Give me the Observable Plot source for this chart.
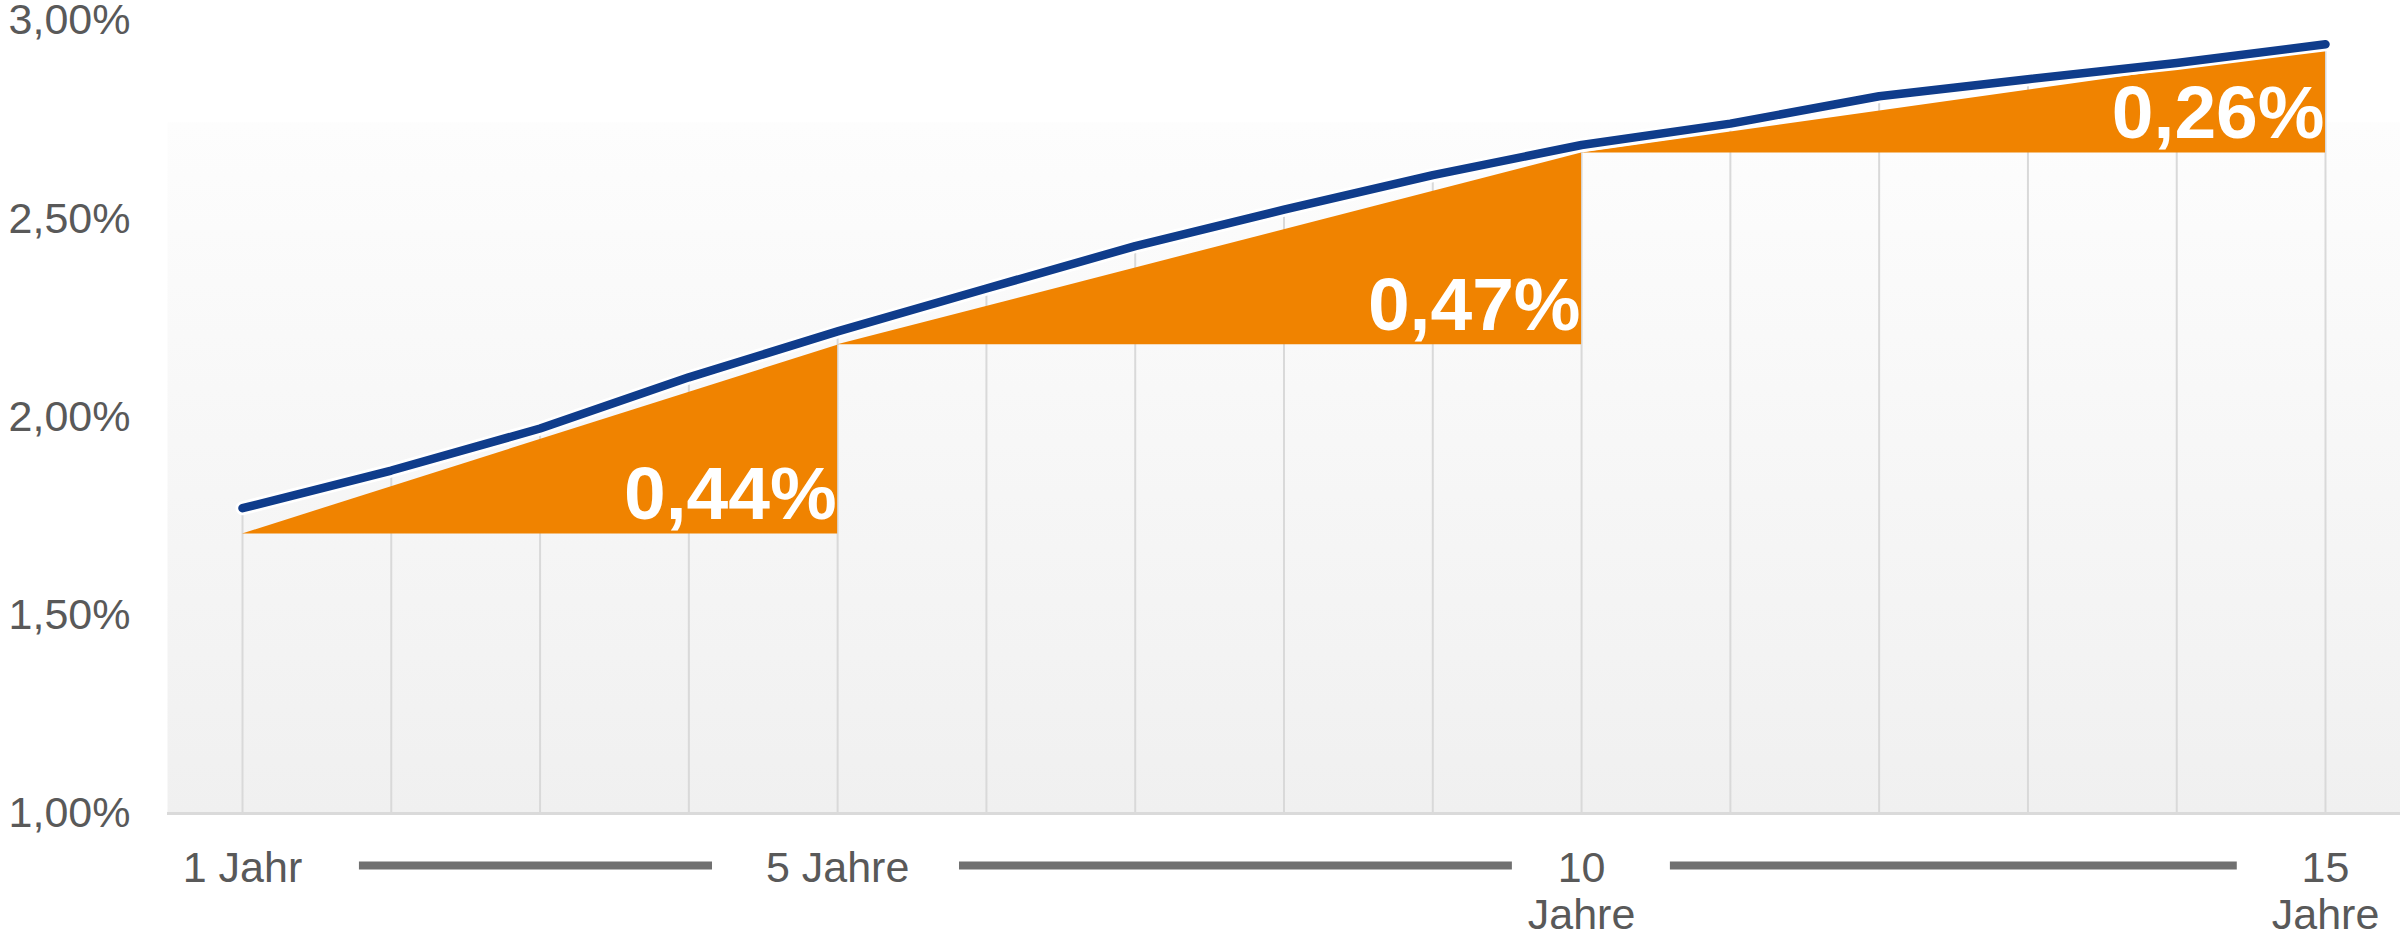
<!DOCTYPE html>
<html>
<head>
<meta charset="utf-8">
<script src="https://cdn.jsdelivr.net/npm/d3@7"></script>
<script src="https://cdn.jsdelivr.net/npm/@observablehq/plot@0.6"></script>
<style>
  html, body { margin: 0; padding: 0; background: #ffffff; }
  #chart { width: 2400px; height: 932px; }
</style>
</head>
<body>
<div id="chart"></div>
<script>
// ---- data ----
const years = [1, 2, 3, 4, 5, 6, 7, 8, 9, 10, 11, 12, 13, 14, 15];
const yieldPct = [1.770, 1.865, 1.971, 2.100, 2.216, 2.324, 2.431, 2.523, 2.610, 2.686, 2.740, 2.809, 2.852, 2.893, 2.940];

const spreadLabels = ["0,44%", "0,47%", "0,26%"];
const spreadFrom = [1, 5, 10];
const spreadTo = [5, 10, 15];
const spreadBase = [1.705, 2.182, 2.666];
const spreadTop = [2.181, 2.666, 2.930];

const yTicks = [1, 1.5, 2, 2.5, 3];
const xTickYears = [1, 5, 10, 15];
const xTickLabels = ["1 Jahr", "5 Jahre", "10\nJahre", "15\nJahre"];

const connectorFrom = [1.786, 5.819, 10.597];
const connectorTo = [4.159, 9.535, 14.407];

// ---- tables built from the arrays ----
const curve = years.map((x, i) => ({x, y: yieldPct[i]}));
const triangles = spreadLabels.flatMap((lab, i) => [
  {g: i, x: spreadFrom[i], y1: spreadBase[i], y2: spreadBase[i]},
  {g: i, x: spreadTo[i], y1: spreadBase[i], y2: spreadTop[i]}
]);
const spreadText = spreadLabels.map((t, i) => ({t, x: spreadTo[i], y: spreadBase[i]}));
const xLabels = xTickYears.map((x, i) => ({x, t: xTickLabels[i]}));
const connectors = connectorFrom.map((a, i) => ({a, b: connectorTo[i]}));

const BLUE = "#0f3c8b";
const ORANGE = "#f08300";
const GRAY_TEXT = "#595959";

const chart = Plot.plot({
  width: 2400,
  height: 932,
  marginLeft: 167,
  marginRight: 0,
  marginTop: 20,
  marginBottom: 119,
  style: {fontFamily: "'Liberation Sans', Arial, sans-serif", fontSize: "43px", color: GRAY_TEXT, background: "#ffffff"},
  x: {domain: [0.496, 15.504], axis: null},
  y: {domain: [1, 3], axis: null},
  marks: [
    Plot.frame({fill: "url(#bgGrad)", stroke: "none"}),
    Plot.ruleX(curve, {x: "x", y1: 1, y2: "y", stroke: "#d9d9d9", strokeWidth: 2}),
    Plot.ruleY([1], {stroke: "#dadada", strokeWidth: 3}),
    Plot.areaY(triangles, {x: "x", y1: "y1", y2: "y2", z: "g", fill: ORANGE, curve: "linear"}),
    Plot.line(curve, {x: "x", y: "y", stroke: "#ffffff", strokeWidth: 14, strokeLinecap: "round", strokeLinejoin: "round"}),
    Plot.line(curve, {x: "x", y: "y", stroke: BLUE, strokeWidth: 8.5, strokeLinecap: "round", strokeLinejoin: "round"}),
    Plot.text(spreadText, {x: "x", y: "y", text: "t", textAnchor: "end", lineAnchor: "bottom", dx: -1, dy: -15,
      fill: "#ffffff", fontSize: 75, fontWeight: "bold"}),
    Plot.axisY(yTicks, {tickSize: 0, tickPadding: 37, fontSize: 43, fill: GRAY_TEXT,
      tickFormat: d => d.toFixed(2).replace(".", ",") + "%"}),
    Plot.text(xLabels, {x: "x", text: "t", frameAnchor: "bottom", lineAnchor: "top", dy: 35, lineHeight: 1.1,
      fill: GRAY_TEXT, fontSize: 43}),
    Plot.ruleY(connectors, {x1: "a", x2: "b", y: 1, dy: 52, stroke: "#707070", strokeWidth: 8})
  ]
});

// background gradient of the plot area
const ns = "http://www.w3.org/2000/svg";
const defs = document.createElementNS(ns, "defs");
const grad = document.createElementNS(ns, "linearGradient");
grad.setAttribute("id", "bgGrad");
grad.setAttribute("x1", "0"); grad.setAttribute("y1", "0");
grad.setAttribute("x2", "0"); grad.setAttribute("y2", "1");
[["0", "#ffffff"], ["0.128", "#ffffff"], ["0.129", "#fdfdfd"], ["1", "#f0f0f0"]].forEach(([o, c]) => {
  const s = document.createElementNS(ns, "stop");
  s.setAttribute("offset", o);
  s.setAttribute("stop-color", c);
  grad.appendChild(s);
});
defs.appendChild(grad);
chart.insertBefore(defs, chart.firstChild);

document.getElementById("chart").appendChild(chart);
</script>
</body>
</html>
